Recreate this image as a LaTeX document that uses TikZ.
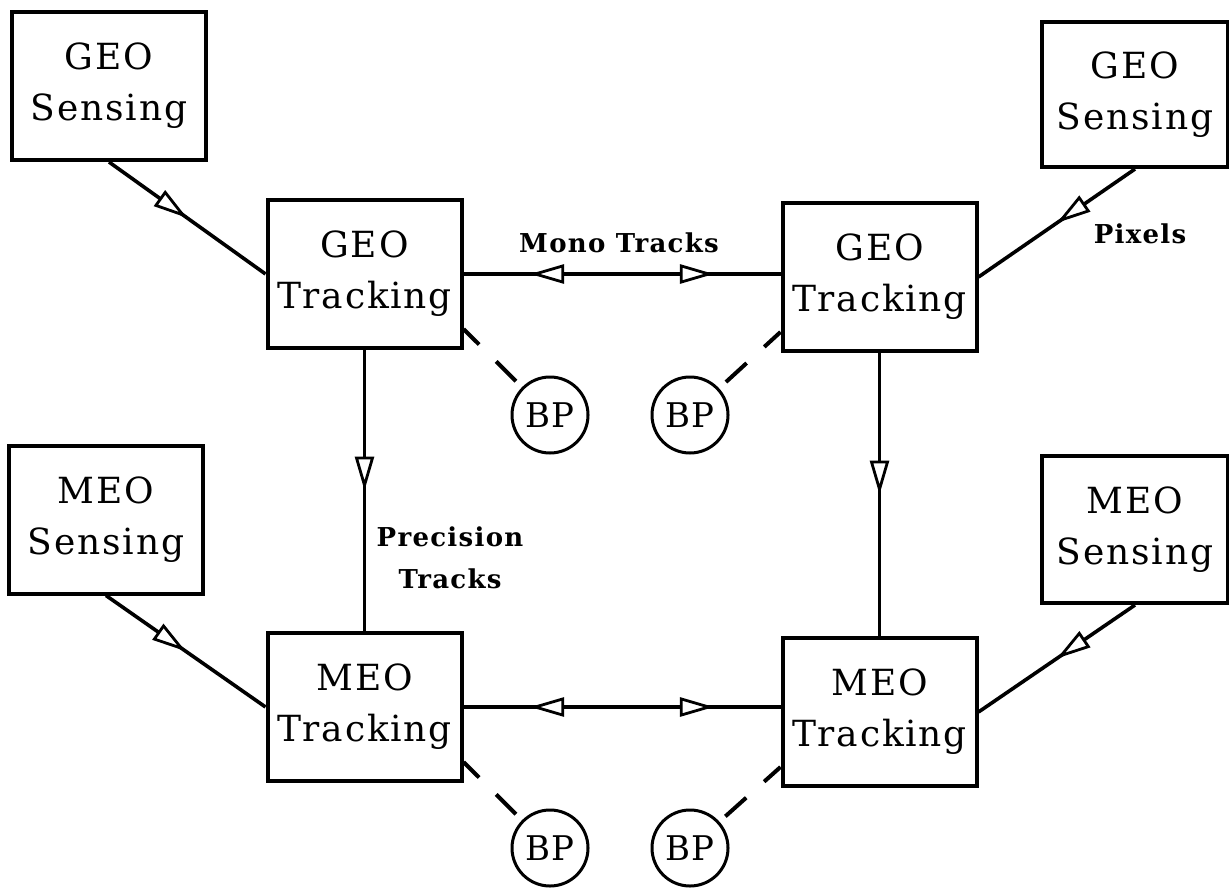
\documentclass[tikz,border=0pt]{standalone}
\usepackage{fontspec}
\setmainfont{DejaVu Serif}[LetterSpace=5]
\usetikzlibrary{arrows.meta,decorations.markings}

\begin{document}
\begin{tikzpicture}[x=0.5pt,y=-0.5pt,
    box/.style={draw,line width=2pt,minimum width=97pt,minimum height=74pt,inner sep=0pt,align=center,font=\fontsize{18}{25.5}\selectfont},
    bp/.style={draw,circle,line width=1.5pt,minimum size=38pt,inner sep=0pt,font=\fontsize{17}{18}\selectfont},
    lbl/.style={align=center,font=\bfseries\fontsize{13}{21}\selectfont},
    flow/.style={line width=1.8pt,postaction={decorate},decoration={markings,mark=at position 0.5 with {\arrow{Triangle[fill=white,length=17pt,width=9.5pt,line width=1.4pt]}}}},
    both/.style={line width=1.8pt,postaction={decorate},decoration={markings,
        mark=at position 0.21 with {\arrowreversed{Triangle[fill=white,length=17pt,width=9.5pt,line width=1.4pt]}},
        mark=at position 0.79 with {\arrow{Triangle[fill=white,length=17pt,width=9.5pt,line width=1.4pt]}}}},
    link/.style={line width=2pt,dash pattern=on 11pt off 12pt on 14pt off 30pt}]
    \useasboundingbox (0,0) rectangle (1229,888);

    \node[box] (gs1) at (109,86) {GEO\\Sensing};
    \node[box] (gt1) at (364.5,274) {GEO\\Tracking};
    \node[box] (ms1) at (106,519.5) {MEO\\Sensing};
    \node[box] (mt1) at (364.5,707) {MEO\\Tracking};
    \node[box,minimum width=93pt,minimum height=72.5pt] (gs2) at (1135,94.5) {GEO\\Sensing};
    \node[box] (gt2) at (879.5,277) {GEO\\Tracking};
    \node[box,minimum width=93pt,minimum height=73.5pt] (ms2) at (1135,529.5) {MEO\\Sensing};
    \node[box] (mt2) at (879.5,712) {MEO\\Tracking};

    \node[bp] (bp1) at (550,415) {BP};
    \node[bp] (bp2) at (690,415) {BP};
    \node[bp] (bp3) at (550,848) {BP};
    \node[bp] (bp4) at (690,848) {BP};

    \node[lbl] (mono) at (619,243) {Mono Tracks};
    \node[lbl] (prec) at (450,558) {Precision\\Tracks};
    \node[lbl] (pix) at (1140,234) {Pixels};

    \draw[flow] (gs1.south) -- (gt1.west);
    \draw[flow] (ms1.south) -- (mt1.west);
    \draw[flow] (gs2.south) -- (gt2.east);
    \draw[flow] (ms2.south) -- (mt2.east);
    \draw[flow] (gt1) -- (mt1);
    \draw[flow] (gt2) -- (mt2);
    \draw[both] (gt1.east) -- (gt1.east -| gt2.west);
    \draw[both] (mt1.east) -- (mt1.east -| mt2.west);

    \draw[link] ([yshift=10.5pt]gt1.south east) -- (bp1);
    \draw[link] ([yshift=10.5pt]gt2.south west) -- (bp2);
    \draw[link] ([yshift=10.5pt]mt1.south east) -- (bp3);
    \draw[link] ([yshift=10.5pt]mt2.south west) -- (bp4);
\end{tikzpicture}
\end{document}
